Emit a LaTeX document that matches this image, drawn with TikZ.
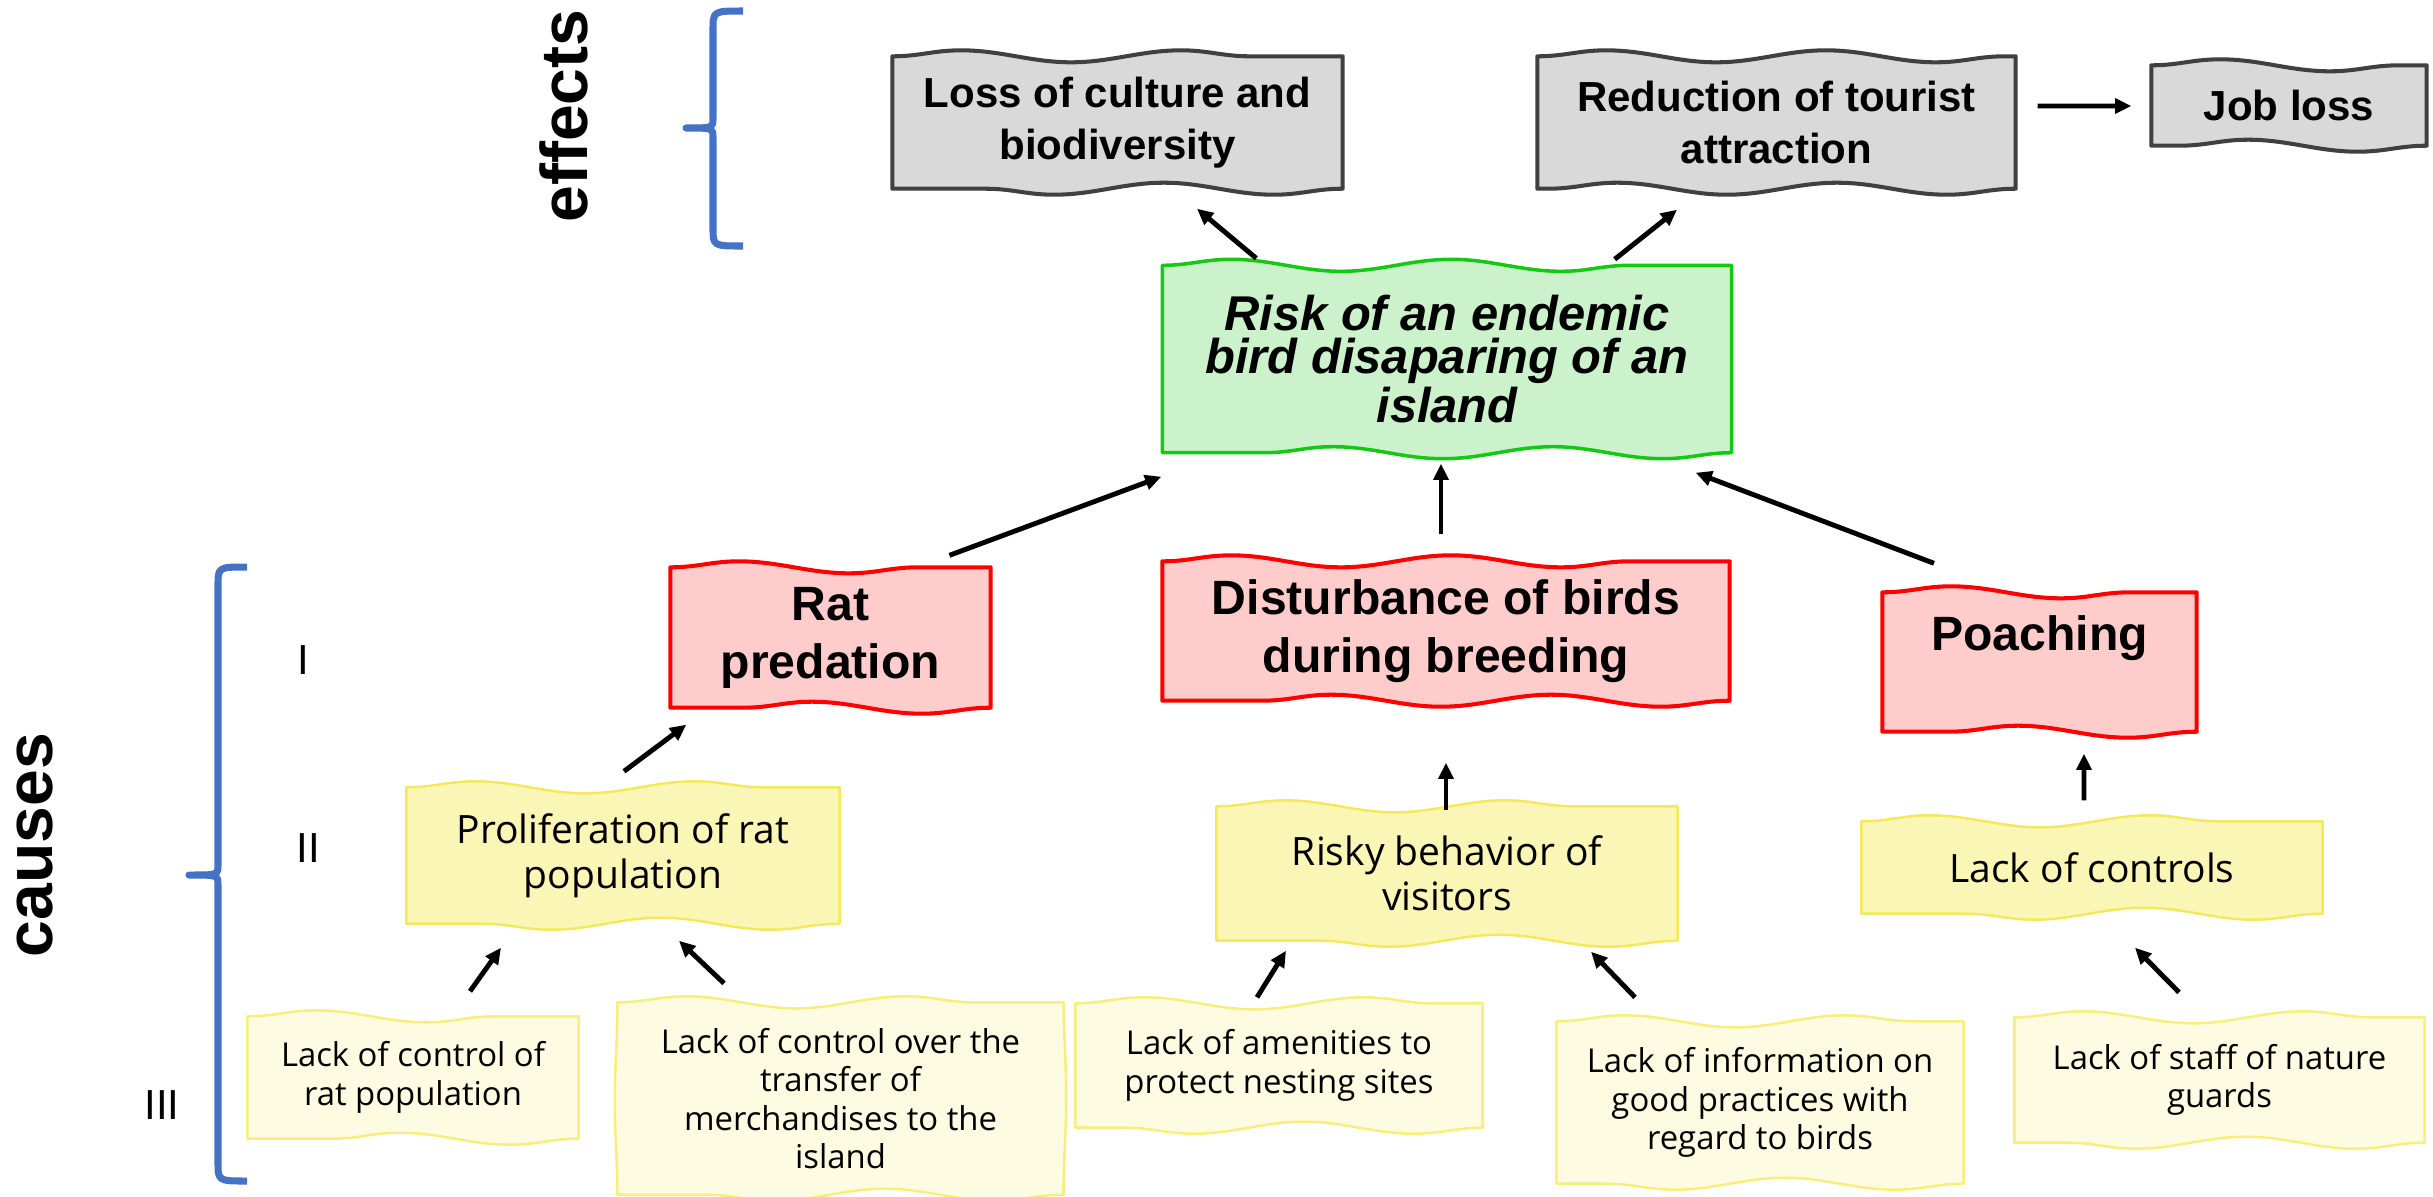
\documentclass[tikz,border=0pt]{standalone}
\usepackage{fontspec}
\setmainfont{Liberation Sans}
\newfontfamily\handfont{Open Sans}
\usetikzlibrary{arrows.meta,calc,decorations.pathmorphing}
\pgfdeclarelayer{background}
\pgfsetlayers{background,main}

\definecolor{bracecol}{RGB}{68,114,196}
\definecolor{greyfill}{RGB}{217,217,217}
\definecolor{greyline}{RGB}{64,64,64}
\definecolor{greenfill}{RGB}{204,242,204}
\definecolor{greenline}{RGB}{20,200,20}
\definecolor{redfill}{RGB}{255,204,204}
\definecolor{redline}{RGB}{255,0,0}
\definecolor{yelfill}{RGB}{250,246,182}
\definecolor{yelline}{RGB}{245,232,90}
\definecolor{paleyelfill}{RGB}{253,251,226}
\definecolor{paleyelline}{RGB}{248,238,120}

% hand-drawn outline behind a node: wavy top and bottom, slightly wobbly sides
\newcommand{\wavyoutline}[4]{%
  \begin{pgfonlayer}{background}
    \path[draw=#2, fill=#3, line width=#4, line join=round,
          topwave/.style={decoration={snake, segment length=22mm, amplitude=0.6mm}},
          sidewave/.style={decoration={snake, segment length=30mm, amplitude=0.25mm}}]
      (#1.north west)
      [topwave] decorate {-- (#1.north east)}
      [sidewave] decorate {-- (#1.south east)}
      [topwave] decorate {-- (#1.south west)}
      [sidewave] decorate {-- (#1.north west)} -- cycle;
  \end{pgfonlayer}}

\tikzset{
  effectbox/.style={align=center, inner sep=0pt,
    font=\fontsize{11.95}{14.8}\selectfont\bfseries},
  corebox/.style={align=center, inner sep=0pt,
    font=\fontsize{13.9}{12.3}\selectfont\bfseries\itshape},
  firstcause/.style={align=center, inner sep=0pt,
    font=\fontsize{13.7}{16.5}\selectfont\bfseries},
  secondcause/.style={align=center, inner sep=0pt,
    font=\handfont\fontsize{11.1}{12.8}\selectfont},
  thirdcause/.style={align=center, inner sep=0pt,
    font=\handfont\fontsize{9.35}{10.9}\selectfont},
  levelmark/.style={font=\fontsize{11.95}{14}\selectfont},
  sidetitle/.style={rotate=90, anchor=base, font=\fontsize{18.8}{22}\selectfont\bfseries},
  brace/.style={draw=bracecol, line width=2pt, line cap=butt, line join=round},
  arr/.style={-{Triangle[length=4.6pt,width=4.2pt]}, line width=1.4pt},
}

\begin{document}
\begin{tikzpicture}[x=0.1mm, y=-0.1mm]
\useasboundingbox (0,0) rectangle (2433,1196);

% side titles and level marks
\node[sidetitle] (effects) at (587,116) {effects};
\node[sidetitle] (causes) at (52,845) {causes};
\node[levelmark] (lvone) at (303,660) {I};
\node[levelmark] (lvtwo) at (308,848) {II};
\node[levelmark] (lvthree) at (162,1105) {III};

% braces
\path[brace] (743,11) .. controls (713,11) .. (713,30) -- (713,118)
  .. controls (713,128) .. (686,128) .. controls (713,128) .. (713,138)
  -- (713,228) .. controls (713,246) .. (743,246);
\path[brace] (247,567) .. controls (218,567) .. (218,586) -- (218,865)
  .. controls (218,875) .. (189,875) .. controls (218,875) .. (218,885)
  -- (218,1162) .. controls (218,1181) .. (247,1181);

% effects
\node[effectbox, minimum width=4.49cm, minimum height=1.31cm] (loss) at (1117.5,122.5) {Loss of culture and\\biodiversity};
\node[effectbox, minimum width=4.77cm, minimum height=1.31cm] (reduc) at (1776.5,122.5) {Reduction of tourist\\attraction};
\node[effectbox, minimum width=2.74cm, minimum height=0.79cm] (job) at (2289,105.5) {Job loss};

% central problem
\node[corebox, minimum width=5.68cm, minimum height=1.86cm] (risk) at (1447,359) {Risk of an endemic\\bird disaparing of an\\island};

% first-level causes
\node[firstcause, minimum width=3.19cm, minimum height=1.39cm] (rat) at (830.5,637.5) {Rat\\predation};
\node[firstcause, minimum width=5.66cm, minimum height=1.38cm] (dist) at (1446,631) {Disturbance of birds\\during breeding};
\node[firstcause, minimum width=3.13cm, minimum height=1.38cm] (poach) at (2039.5,662) {Poaching\\\mbox{}};

% second-level causes
\node[secondcause, minimum width=4.32cm, minimum height=1.35cm] (prolif) at (623,855.5) {Proliferation of rat\\population};
\node[secondcause, minimum width=4.60cm, minimum height=1.33cm] (risky) at (1447,873.5) {Risky behavior of\\visitors};
\node[secondcause, minimum width=4.60cm, minimum height=0.91cm] (controls) at (2092,867.5) {Lack of controls};

% third-level causes
\node[thirdcause, minimum width=3.30cm, minimum height=1.21cm] (lcr) at (413,1077.5) {Lack of control of\\rat population};
\node[thirdcause, minimum width=4.45cm, minimum height=1.91cm] (transfer) at (840.5,1098.5) {Lack of control over the\\transfer of\\merchandises to the\\island};
\node[thirdcause, minimum width=4.06cm, minimum height=1.23cm] (amen) at (1279,1065.5) {Lack of amenities to\\protect nesting sites};
\node[thirdcause, minimum width=4.06cm, minimum height=1.61cm] (info) at (1760,1102.5) {Lack of information on\\good practices with\\regard to birds};
\node[thirdcause, minimum width=4.09cm, minimum height=1.24cm] (staff) at (2219.5,1080) {Lack of staff of nature\\guards};

% outlines
\wavyoutline{loss}{greyline}{greyfill}{1.15pt}
\wavyoutline{reduc}{greyline}{greyfill}{1.15pt}
\wavyoutline{job}{greyline}{greyfill}{1.15pt}
\wavyoutline{risk}{greenline}{greenfill}{1pt}
\wavyoutline{rat}{redline}{redfill}{1.15pt}
\wavyoutline{dist}{redline}{redfill}{1.15pt}
\wavyoutline{poach}{redline}{redfill}{1.15pt}
\wavyoutline{prolif}{yelline}{yelfill}{0.7pt}
\wavyoutline{risky}{yelline}{yelfill}{0.7pt}
\wavyoutline{controls}{yelline}{yelfill}{0.7pt}
\wavyoutline{lcr}{paleyelline}{paleyelfill}{0.7pt}
\wavyoutline{transfer}{paleyelline}{paleyelfill}{0.7pt}
\wavyoutline{amen}{paleyelline}{paleyelfill}{0.7pt}
\wavyoutline{info}{paleyelline}{paleyelfill}{0.7pt}
\wavyoutline{staff}{paleyelline}{paleyelfill}{0.7pt}

% connectors
\draw[arr] ($(risk.north west)+(94,-7)$) -- ($(loss.south)+(79.5,20)$);
\draw[arr] ($(risk.north east)+(-117,-6)$) -- ($(reduc.south)+(-99.5,21)$);
\draw[arr] ($(reduc.east)+(22,-16.5)$) -- ($(job.west)+(-20,0.5)$);
\draw[arr] ($(rat.north)+(119,-12)$) -- ($(risk.south west)+(-1,24)$);
\draw[arr] ($(dist.north)+(-5,-27)$) -- ($(risk.south)+(-6,11)$);
\draw[arr] ($(poach.north)+(-105.5,-29)$) -- ($(risk.south east)+(-36,20)$);
\draw[arr] ($(prolif.north)+(1,-16)$) -- ($(rat.south west)+(16,17)$);
\draw[arr] ($(risky.north)+(-1,4)$) -- ($(dist.south)+(0,62)$);
\draw[arr] ($(controls.north)+(-8,-21)$) -- ($(poach.south)+(44.5,22)$);
\draw[arr] ($(lcr.north)+(57,-25)$) -- ($(prolif.south)+(-122,24)$);
\draw[arr] ($(transfer.north)+(-116.5,-19)$) -- ($(prolif.south)+(56,17)$);
\draw[arr] ($(amen.north)+(-22,-6)$) -- ($(risky.south)+(-161,10)$);
\draw[arr] ($(info.north)+(-125,-24)$) -- ($(risky.south)+(144,11)$);
\draw[arr] ($(staff.north)+(-40.5,-25)$) -- ($(controls.south)+(43,34)$);
\end{tikzpicture}
\end{document}
